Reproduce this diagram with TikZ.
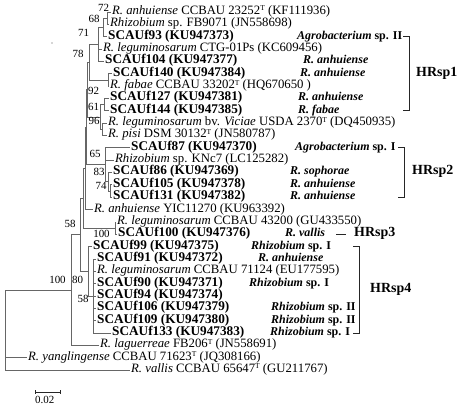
\documentclass[tikz,border=0pt]{standalone}
\usepackage{fontspec}
\setmainfont{Liberation Serif}
\usetikzlibrary{positioning}
\newcommand{\typestr}{\raisebox{0.28em}{\fontsize{7.5}{7.5}\selectfont T}}

\begin{document}
\begin{tikzpicture}[
    x=1bp, y=-1bp,
    leaf/.style   = {anchor=west, inner xsep=1bp, inner ysep=0pt,
                     text height=0.66em, text depth=0.16em,
                     font=\fontsize{12.8}{12.8}\selectfont},
    isol/.style   = {leaf, font=\fontsize{13.3}{13.3}\selectfont\bfseries},
    note/.style   = {anchor=west, inner sep=0pt,
                     text height=0.66em, text depth=0.16em,
                     font=\fontsize{12}{12}\selectfont\bfseries},
    boot/.style   = {inner sep=0pt, font=\fontsize{11}{11}\selectfont},
    group/.style  = {note, font=\fontsize{14}{14}\selectfont\bfseries},
    branch/.style = {draw=black!60, line width=0.8bp},
    brk/.style    = {draw=black!85, line width=0.9bp}
]
\useasboundingbox (0,0) rectangle (459,408);

% taxa
\node[leaf] (r1)  at (111,12.0)  {\textit{R. anhuiense} CCBAU 23252\typestr{} (KF111936)};
\node[leaf] (r2)  at (109,24.3)  {\textit{Rhizobium} sp. FB9071 (JN558698)};
\node[isol] (r3)  at (107,36.7)  {SCAUf93 (KU947373)};
\node[leaf] (r4)  at (102,49.0)  {\textit{R. leguminosarum} CTG-01Ps (KC609456)};
\node[isol] (r5)  at (104,61.4)  {SCAUf104 (KU947377)};
\node[isol] (r6)  at (112,73.7)  {SCAUf140 (KU947384)};
\node[leaf] (r7)  at (109,86.1)  {\textit{R. fabae} CCBAU 33202\typestr{} (HQ670650 )};
\node[isol] (r8)  at (109,98.4)  {SCAUf127 (KU947381)};
\node[isol] (r9)  at (109,110.8) {SCAUf144 (KU947385)};
\node[leaf] (r10) at (107,123.1) {\textit{R. leguminosarum} bv. \textit{Viciae} USDA 2370\typestr{} (DQ450935)};
\node[leaf] (r11) at (107,135.5) {\textit{R. pisi} DSM 30132\typestr{} (JN580787)};
\node[isol] (r12) at (130,147.8) {SCAUf87 (KU947370)};
\node[leaf] (r13) at (114,160.1) {\textit{Rhizobium} sp. KNc7 (LC125282)};
\node[isol] (r14) at (112,172.5) {SCAUf86 (KU947369)};
\node[isol] (r15) at (112,184.8) {SCAUf105 (KU947378)};
\node[isol] (r16) at (112,197.2) {SCAUf131 (KU947382)};
\node[leaf] (r17) at (93,209.5)  {\textit{R. anhuiense} YIC11270 (KU963392)};
\node[leaf] (r18) at (116,221.9) {\textit{R. leguminosarum} CCBAU 43200 (GU433550)};
\node[isol] (r19) at (117,234.2) {SCAUf100 (KU947376)};
\node[isol] (r20) at (92,246.6)  {SCAUf99 (KU947375)};
\node[isol] (r21) at (96,258.9)  {SCAUf91 (KU947372)};
\node[leaf] (r22) at (96,271.3)  {\textit{R. leguminosarum} CCBAU 71124 (EU177595)};
\node[isol] (r23) at (96,283.6)  {SCAUf90 (KU947371)};
\node[isol] (r24) at (96,295.9)  {SCAUf94 (KU947374)};
\node[isol] (r25) at (96,308.3)  {SCAUf106 (KU947379)};
\node[isol] (r26) at (96,320.6)  {SCAUf109 (KU947380)};
\node[isol] (r27) at (111,333.0) {SCAUf133 (KU947383)};
\node[leaf] (r28) at (99,345.3)  {\textit{R. laguerreae} FB206\typestr{} (JN558691)};
\node[leaf] (r29) at (27,357.7)  {\textit{R. yanglingense} CCBAU 71623\typestr{} (JQ308166)};
\node[leaf] (r30) at (130,370.0) {\textit{R. vallis} CCBAU 65647\typestr{} (GU211767)};

% host / identification notes
\node[note] (a3)  at (297,36.7)  {\textit{Agrobacterium} sp. II};
\node[note] (a5)  at (303,61.4)  {\textit{R. anhuiense}};
\node[note] (a6)  at (300,73.7)  {\textit{R. anhuiense}};
\node[note] (a8)  at (298,98.4)  {\textit{R. anhuiense}};
\node[note] (a9)  at (298,110.8) {\textit{R. fabae}};
\node[note] (a12) at (295,147.8) {\textit{Agrobacterium} sp. I};
\node[note] (a14) at (290,172.5) {\textit{R. sophorae}};
\node[note] (a15) at (290,184.8) {\textit{R. anhuiense}};
\node[note] (a16) at (290,197.2) {\textit{R. anhuiense}};
\node[note] (a19) at (285,234.2) {\textit{R. vallis}};
\node[note] (a20) at (251,246.6) {\textit{Rhizobium} sp. I};
\node[note] (a21) at (258,258.9) {\textit{R. anhuiense}};
\node[note] (a23) at (249,283.6) {\textit{Rhizobium} sp. I};
\node[note] (a25) at (271,308.3) {\textit{Rhizobium} sp. II};
\node[note] (a26) at (271,320.6) {\textit{Rhizobium} sp. II};
\node[note] (a27) at (270,333.0) {\textit{Rhizobium} sp. I};

% groups
\node[group] (hr1) at (416,73.8)  {HRsp1};
\node[group] (hr2) at (412,172.5) {HRsp2};
\node[group] (hr3) at (354,234.2) {HRsp3};
\node[group] (hr4) at (370,289.8) {HRsp4};

\draw[brk] (403,36.7) -- (409,36.7) -- (409,110.8) -- (403,110.8);
\draw[brk] (398,147.8) -- (404,147.8) -- (404,197.2) -- (398,197.2);
\draw[brk] (336,234.2) -- (346,234.2);
\draw[brk] (353,246.6) -- (359,246.6) -- (359,333.0) -- (353,333.0);

% inner nodes
\coordinate (n72)  at (107,18.15);
\coordinate (n68)  at (103,27.4);
\coordinate (n71)  at (98,44.4);
\coordinate (nfa)  at (108,79.9);
\coordinate (n78)  at (89,62.15);
\coordinate (n92)  at (104,104.6);
\coordinate (n96)  at (102,129.3);
\coordinate (n61)  at (100,116.95);
\coordinate (nv)   at (87.5,89.55);
\coordinate (n74)  at (110,191.0);
\coordinate (n83)  at (108,181.75);
\coordinate (n65)  at (105.5,164.8);
\coordinate (nw)   at (86,127.2);
\coordinate (nu)   at (85,168.35);
\coordinate (n100) at (115,228.05);
\coordinate (nc)   at (83.5,198.2);
\coordinate (nd)   at (93,295.95);
\coordinate (ng)   at (88,271.3);
\coordinate (nb)   at (80.5,234.75);
\coordinate (nk)   at (71,290.0);
\coordinate (root) at (5,330);

\draw[branch] (n72) |- (r1.west)  (n72) |- (r2.west);
\draw[branch] (n68) |- (n72)      (n68) |- (r3.west);
\draw[branch] (n71) |- (n68)      (n71) |- (r4.west)  (n71) |- (r5.west);
\draw[branch] (nfa) |- (r6.west)  (nfa) |- (r7.west);
\draw[branch] (n78) |- (n71)      (n78) |- (nfa);
\draw[branch] (n92) |- (r8.west)  (n92) |- (r9.west);
\draw[branch] (n96) |- (r10.west) (n96) |- (r11.west);
\draw[branch] (n61) |- (n92)      (n61) |- (n96);
\draw[branch] (nv)  |- (n78)      (nv)  |- (n61);
\draw[branch] (n74) |- (r15.west) (n74) |- (r16.west);
\draw[branch] (n83) |- (r14.west) (n83) |- (n74);
\draw[branch] (n65) |- (r12.west) (n65) |- (r13.west) (n65) |- (n83);
\draw[branch] (nw)  |- (nv)       (nw)  |- (n65);
\draw[branch] (nu)  |- (nw)       (nu)  |- (r17.west);
\draw[branch] (n100) |- (r18.west) (n100) |- (r19.west);
\draw[branch] (nc)  |- (nu)       (nc)  |- (n100);
\foreach \i in {21,...,27}
    \draw[branch] (nd) |- (r\i.west);
\draw[branch] (ng)  |- (r20.west) (ng)  |- (nd);
\draw[branch] (nb)  |- (nc)       (nb)  |- (ng);
\draw[branch] (nk)  |- (nb)       (nk)  |- (r28.west);
\draw[branch] (root) |- (nk) (root) |- (r29.west) (root) |- (r30.west);

% bootstrap values
\node[boot] (b72)  at (103.5,8)   {72};
\node[boot] (b68)  at (94,18.5)   {68};
\node[boot] (b71)  at (83.5,33)   {71};
\node[boot] (b78)  at (78,54)     {78};
\node[boot] (b92)  at (93.5,91)   {92};
\node[boot] (b61)  at (93.5,106.5) {61};
\node[boot] (b96)  at (94,120.5)  {96};
\node[boot] (b65)  at (95,154)    {65};
\node[boot] (b83)  at (99,171.5)  {83};
\node[boot] (b74)  at (101,185.5) {74};
\node[boot] (b58a) at (70,223.5)  {58};
\node[boot] (b100a) at (101.5,233.5) {100};
\node[boot] (b100b) at (57.5,279.5) {100};
\node[boot] (b80)  at (77.5,279.5) {80};
\node[boot] (b58b) at (83,299)    {58};

% scale bar
\coordinate (s0) at (35,392);
\coordinate (s1) at (60,392);
\draw[brk] (s0) -- (s1);
\draw[brk] ([yshift=2bp]s0) -- ([yshift=-2bp]s0);
\draw[brk] ([yshift=2bp]s1) -- ([yshift=-2bp]s1);
\node[boot, below=4bp of s0, anchor=north west] (scl) {0.02};

\fill[black!70] (52,43) circle (0.7);
\end{tikzpicture}
\end{document}
